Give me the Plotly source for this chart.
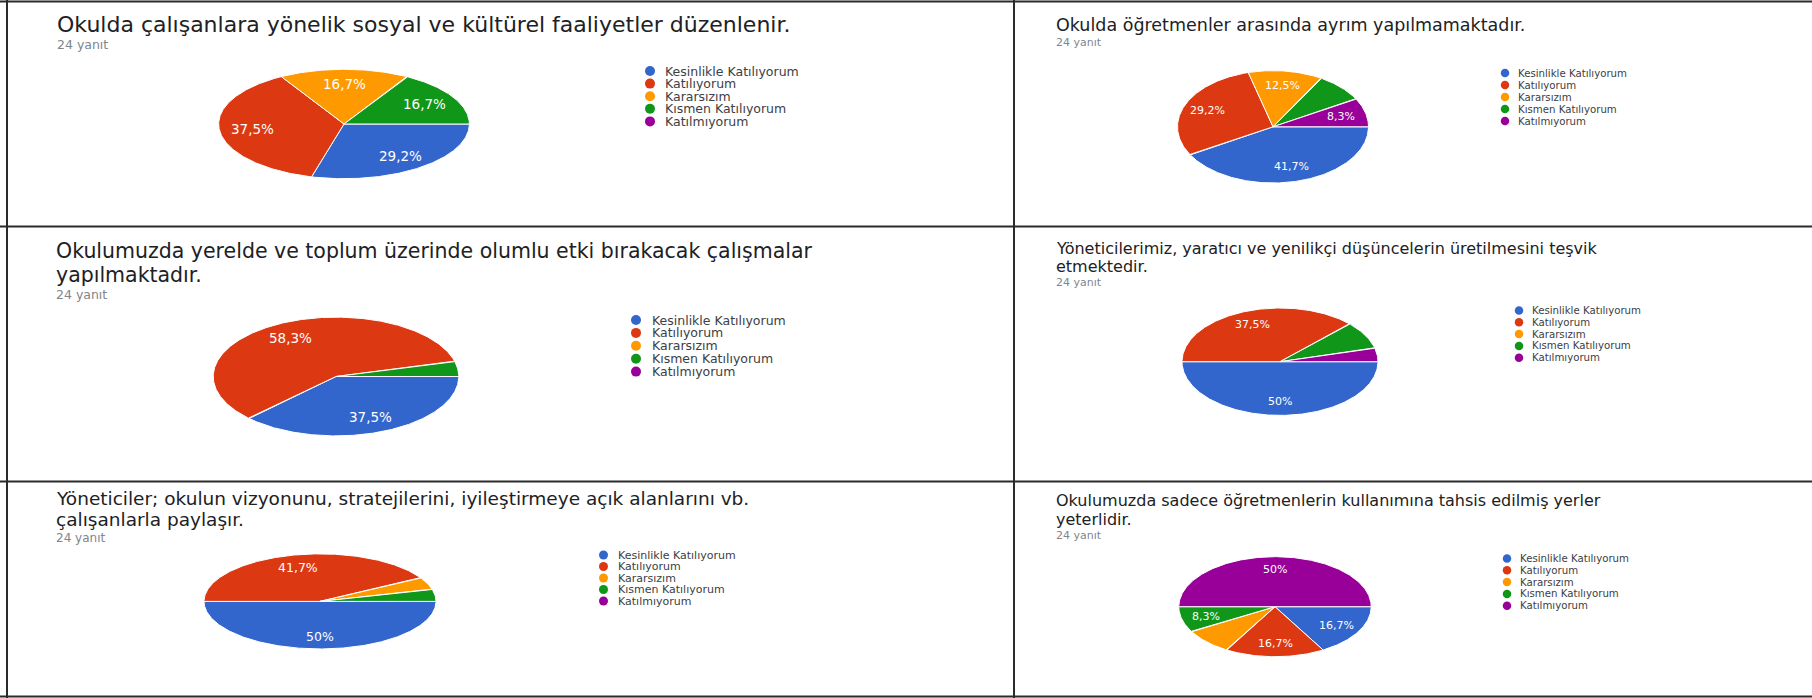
import numpy as np
import plotly.graph_objects as go

W, H = 1812, 698

categories = ["Kesinlikle Katılıyorum", "Katılıyorum", "Kararsızım", "Kısmen Katılıyorum", "Katılmıyorum"]
colors = ["#3366CC", "#DC3912", "#FF9900", "#109618", "#990099"]

titles = [
    ["Okulda çalışanlara yönelik sosyal ve kültürel faaliyetler düzenlenir."],
    ["Okulda öğretmenler arasında ayrım yapılmamaktadır."],
    ["Okulumuzda yerelde ve toplum üzerinde olumlu etki bırakacak çalışmalar", "yapılmaktadır."],
    ["Yöneticilerimiz, yaratıcı ve yenilikçi düşüncelerin üretilmesini teşvik", "etmektedir."],
    ["Yöneticiler; okulun vizyonunu, stratejilerini, iyileştirmeye açık alanlarını vb.", "çalışanlarla paylaşır."],
    ["Okulumuzda sadece öğretmenlerin kullanımına tahsis edilmiş yerler", "yeterlidir."],
]
subtitle = "24 yanıt"

# response counts (24 answers each), in category order
q1 = [7, 9, 4, 4, 0]
q2 = [10, 7, 3, 2, 2]
q3 = [9, 14, 0, 1, 0]
q4 = [12, 9, 0, 2, 1]
q5 = [12, 10, 1, 1, 0]
q6 = [4, 4, 2, 2, 12]
values = [q1, q2, q3, q4, q5, q6]

# which slices carry a percentage label in the original
show1 = [1, 1, 1, 1, 0]
show2 = [1, 1, 1, 0, 1]
show3 = [1, 1, 0, 0, 0]
show4 = [1, 1, 0, 0, 0]
show5 = [1, 1, 0, 0, 0]
show6 = [1, 1, 0, 1, 1]
shows = [show1, show2, show3, show4, show5, show6]

# layout of each panel (pixels)
panels = [
    dict(cx=344, cy=124, rx=126, ry=55, tx=55, ty=[24], sy=44, lx=650, ltx=663, ly=71, ldy=12.6,
         ts=22, ls=12.5, ms=10, ps=13.5, ss=12.5),
    dict(cx=1273, cy=126.8, rx=96, ry=56.5, tx=1054, ty=[25], sy=42, lx=1505, ltx=1516, ly=73, ldy=12.0,
         ts=17.5, ls=10.2, ms=8.5, ps=11, ss=11),
    dict(cx=336, cy=376.5, rx=123.4, ry=59.7, tx=54, ty=[250.5, 274.5], sy=294, lx=636, ltx=650, ly=320, ldy=12.9,
         ts=20.5, ls=12.5, ms=10, ps=13.5, ss=12.5),
    dict(cx=1280, cy=361.7, rx=98.5, ry=54, tx=1054, ty=[248.2, 266.9], sy=282.5, lx=1519, ltx=1530, ly=310.5, ldy=11.8,
         ts=16, ls=10.2, ms=8.5, ps=11, ss=11),
    dict(cx=320, cy=601.4, rx=116.6, ry=47.8, tx=54, ty=[498, 519.7], sy=538, lx=603.5, ltx=616, ly=555, ldy=11.5,
         ts=18.5, ls=11, ms=9, ps=12.5, ss=12),
    dict(cx=1275, cy=606.7, rx=96.7, ry=50.3, tx=1054, ty=[500.5, 519.2], sy=535, lx=1507, ltx=1518, ly=558.5, ldy=11.8,
         ts=16, ls=10.2, ms=8.5, ps=11, ss=11),
]

FONT = "DejaVu Sans"
LABEL_R = 0.74

fig = go.Figure()
annotations = []
layout_axes = {}


def fmt_pct(p):
    r = round(p, 1)
    if abs(r - round(r)) < 1e-9:
        return f"{int(round(r))}%"
    return f"{r:.1f}".replace(".", ",") + "%"


for k, (vals, show, pn) in enumerate(zip(values, shows, panels)):
    ax = k + 1
    xa = "x" if ax == 1 else f"x{ax}"
    ya = "y" if ax == 1 else f"y{ax}"
    total = float(sum(vals))
    start = 0.0
    for i, v in enumerate(vals):
        if v <= 0:
            continue
        sweep = 360.0 * v / total
        t = np.radians(np.linspace(start, start + sweep, max(3, int(sweep * 2) + 2)))
        xs = np.concatenate([[0.0], np.cos(t), [0.0]])
        ys = np.concatenate([[0.0], -np.sin(t), [0.0]])
        fig.add_trace(go.Scatter(
            x=xs, y=ys, mode="lines", fill="toself", fillcolor=colors[i],
            line=dict(color="white", width=1), xaxis=xa, yaxis=ya,
            name=categories[i], showlegend=False, hoverinfo="name",
        ))
        if show[i]:
            mid = np.radians(start + sweep / 2)
            annotations.append(dict(
                x=LABEL_R * np.cos(mid), y=-LABEL_R * np.sin(mid), xref=xa, yref=ya,
                text=fmt_pct(100.0 * v / total), showarrow=False,
                font=dict(family=FONT, size=pn["ps"], color="white"),
                xanchor="center", yanchor="middle",
            ))
        start += sweep
    dom_x = [(pn["cx"] - pn["rx"]) / W, (pn["cx"] + pn["rx"]) / W]
    dom_y = [1 - (pn["cy"] + pn["ry"]) / H, 1 - (pn["cy"] - pn["ry"]) / H]
    kx = "xaxis" if ax == 1 else f"xaxis{ax}"
    ky = "yaxis" if ax == 1 else f"yaxis{ax}"
    layout_axes[kx] = dict(domain=dom_x, range=[-1.005, 1.005], visible=False, fixedrange=True, anchor=ya)
    layout_axes[ky] = dict(domain=dom_y, range=[-1.005, 1.005], visible=False, fixedrange=True, anchor=xa)

# pixel axis for titles, legends and cell borders
layout_axes["xaxis7"] = dict(domain=[0, 1], range=[0, W], visible=False, fixedrange=True, anchor="y7")
layout_axes["yaxis7"] = dict(domain=[0, 1], range=[H, 0], visible=False, fixedrange=True, anchor="x7")

for k, pn in enumerate(panels):
    for line, y in zip(titles[k], pn["ty"]):
        annotations.append(dict(
            x=pn["tx"], y=y, xref="x7", yref="y7", text=line, showarrow=False,
            xanchor="left", yanchor="middle",
            font=dict(family=FONT, size=pn["ts"], color="#202124"),
        ))
    annotations.append(dict(
        x=pn["tx"], y=pn["sy"], xref="x7", yref="y7", text=subtitle, showarrow=False,
        xanchor="left", yanchor="middle",
        font=dict(family=FONT, size=pn["ss"], color="#80868b"),
    ))
    ys = [pn["ly"] + i * pn["ldy"] for i in range(len(categories))]
    fig.add_trace(go.Scatter(
        x=[pn["lx"]] * len(categories), y=ys, mode="markers",
        marker=dict(color=colors, size=pn["ms"], line=dict(width=0)),
        xaxis="x7", yaxis="y7", showlegend=False, hoverinfo="skip",
    ))
    for i, c in enumerate(categories):
        annotations.append(dict(
            x=pn["ltx"], y=ys[i], xref="x7", yref="y7", text=c, showarrow=False,
            xanchor="left", yanchor="middle",
            font=dict(family=FONT, size=pn["ls"], color="#3c4043"),
        ))

border = dict(color="#2b2b2b", width=2)
shapes = [
    dict(type="line", xref="x7", yref="y7", x0=7, x1=7, y0=0, y1=H, line=border),
    dict(type="line", xref="x7", yref="y7", x0=1014, x1=1014, y0=0, y1=H, line=border),
    dict(type="line", xref="x7", yref="y7", x0=0, x1=W, y0=1.5, y1=1.5, line=border),
    dict(type="line", xref="x7", yref="y7", x0=0, x1=W, y0=226.5, y1=226.5, line=border),
    dict(type="line", xref="x7", yref="y7", x0=0, x1=W, y0=481.5, y1=481.5, line=border),
    dict(type="line", xref="x7", yref="y7", x0=0, x1=W, y0=696.5, y1=696.5, line=border),
]

fig.update_layout(
    width=W, height=H, autosize=False,
    margin=dict(l=0, r=0, t=0, b=0),
    paper_bgcolor="white", plot_bgcolor="rgba(0,0,0,0)",
    showlegend=False, annotations=annotations, shapes=shapes,
    **layout_axes,
)

fig.write_html(
    "out.html",
    config={"displayModeBar": False},
    post_script="document.body.style.margin='0';document.body.style.overflow='hidden';",
)
